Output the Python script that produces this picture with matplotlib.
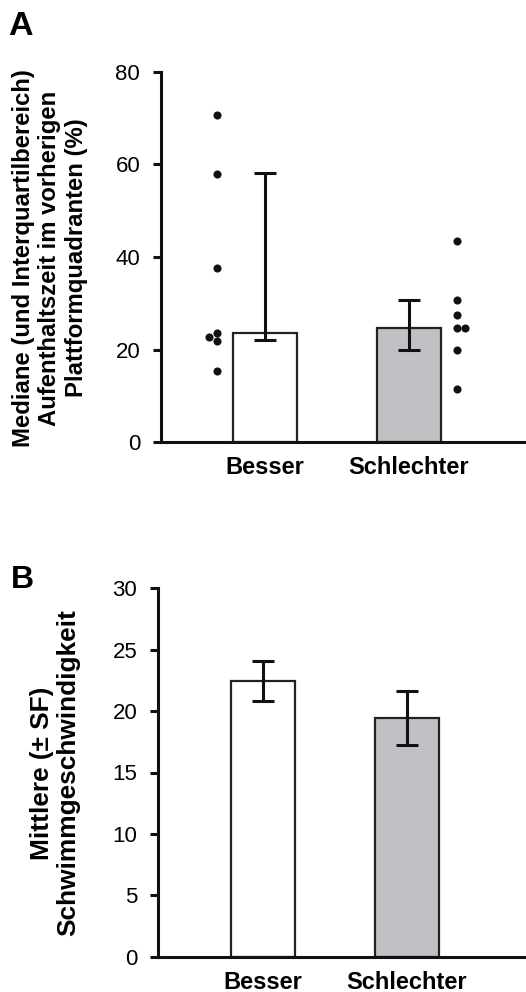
import matplotlib
matplotlib.use("Agg")
import matplotlib.pyplot as plt
import numpy as np

plt.rcParams["font.family"] = ["Liberation Sans", "DejaVu Sans"]

groups = ["Besser", "Schlechter"]

# A: medians with interquartile range plus single animals
median_a = [23.6, 24.6]
q1_a = [22.0, 20.0]
q3_a = [58.1, 30.7]
besser_pts = [70.6, 58.0, 37.7, 23.5, 22.6, 21.8, 15.4]
schlechter_pts = [43.5, 30.6, 27.5, 24.6, 24.6, 20.0, 11.4]

# B: mean swim speed +/- SE
mean_b = [22.45, 19.4]
se_b = [1.65, 2.2]

fills = ["white", "#c0c1c4"]
edge = "#222222"
W, H = 526, 992


def dodge(vals, side, gap=1.5, step=0.055):
    # shift points that would overlap a neighbour sideways
    order = np.argsort(vals)
    offs = np.zeros(len(vals))
    last = None
    for i in order:
        if last is not None and abs(vals[i] - last) < gap:
            offs[i] = side * step
        else:
            last = vals[i]
    return offs


def style(ax, ymax, step):
    for s in ["top", "right"]:
        ax.spines[s].set_visible(False)
    for s in ["left", "bottom"]:
        ax.spines[s].set_linewidth(2.2)
        ax.spines[s].set_color("#111111")
    ax.set_ylim(0, ymax)
    ax.set_yticks(np.arange(0, ymax + 1, step))
    ax.tick_params(axis="y", length=6, width=2.2, pad=9, labelsize=16,
                   color="#111111")
    ax.tick_params(axis="x", length=0, pad=10, labelsize=17)
    ax.set_xticks([0, 1])
    ax.set_xticklabels(groups, fontweight="bold")


fig = plt.figure(figsize=(W / 100, H / 100), dpi=100)

# panel A
axA = fig.add_axes([161 / W, 1 - 442 / H, 1 - 161 / W, 370 / H])
x = np.arange(2)
axA.bar(x, median_a, width=0.444, color=fills, edgecolor=edge, linewidth=1.6, zorder=2)
lo = np.array(median_a) - np.array(q1_a)
hi = np.array(q3_a) - np.array(median_a)
axA.errorbar(x, median_a, yerr=[lo, hi], fmt="none", ecolor="#111111",
             elinewidth=2.2, capsize=8, capthick=2.2, zorder=3)
for k, pts in enumerate([besser_pts, schlechter_pts]):
    side = -1 if k == 0 else 1
    xs = k + side * 0.333 + dodge(pts, side)
    axA.scatter(xs, pts, s=34, color="#111111", linewidths=0, zorder=4)
axA.set_xlim(-0.722, 1.8125)
style(axA, 80, 20)

# panel B
axB = fig.add_axes([158 / W, 1 - 956.7 / H, 1 - 158 / W, 368.4 / H])
axB.bar(x, mean_b, width=0.444, color=fills, edgecolor=edge, linewidth=1.6, zorder=2)
axB.errorbar(x, mean_b, yerr=se_b, fmt="none", ecolor="#111111",
             elinewidth=2.2, capsize=8, capthick=2.2, zorder=3)
axB.set_xlim(-0.729, 1.826)
style(axB, 30, 5)

fig.text(50 / W, 1 - 258 / H,
         "Mediane (und Interquartilbereich)\nAufenthaltszeit im vorherigen\nPlattformquadranten (%)",
         rotation=90, ha="center", va="center", multialignment="center",
         fontsize=17.2, fontweight="bold", linespacing=1.22)
fig.text(55 / W, 1 - 773 / H,
         "Mittlere (± SF)\nSchwimmgeschwindigkeit",
         rotation=90, ha="center", va="center", multialignment="center",
         fontsize=18.9, fontweight="bold", linespacing=1.15)

fig.text(8 / W, 1 - 35 / H, "A", fontsize=24.5, fontweight="bold", va="baseline")
fig.text(11 / W, 1 - 588 / H, "B", fontsize=23, fontweight="bold", va="baseline")

fig.savefig("out.png", dpi=100)
